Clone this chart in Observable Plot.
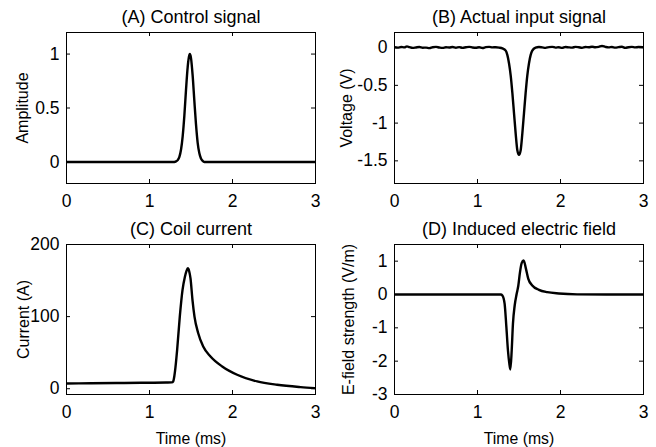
<!DOCTYPE html>
<html>
<head>
<meta charset="utf-8">
<script src="https://cdn.jsdelivr.net/npm/d3@7"></script>
<script src="https://cdn.jsdelivr.net/npm/@observablehq/plot@0.6"></script>
<style>
  html, body { margin: 0; padding: 0; background: #fff; }
  #wrap { position: relative; width: 656px; height: 447px; overflow: hidden; font-family: "Liberation Sans", Arial, sans-serif; }
  .panel { position: absolute; }
</style>
</head>
<body>
<div id="wrap"></div>
<script>
// ---------- data ----------
const xTicks = [0, 1, 2, 3];

// (A) Control signal
const tA = [0, 1.30, 1.32, 1.34, 1.36, 1.38, 1.40, 1.42, 1.44, 1.46, 1.48, 1.486, 1.50, 1.52, 1.54, 1.56, 1.58, 1.60, 1.62, 1.64, 1.66, 3];
const vA = [0, 0, 0.005, 0.017, 0.047, 0.115, 0.24, 0.43, 0.67, 0.88, 0.99, 1.0, 0.963, 0.80, 0.57, 0.35, 0.18, 0.082, 0.032, 0.01, 0, 0];
const ticksA = [0, 0.5, 1];

// (B) Actual input signal
const tB = [0, 0.04, 0.08, 0.12, 0.15, 0.18, 0.22, 0.26, 0.3, 0.34, 0.38, 0.42, 0.46, 0.5, 0.54, 0.58, 0.62, 0.66, 0.7, 0.74, 0.78, 0.82, 0.86, 0.9, 0.94, 0.98, 1.02, 1.06, 1.1, 1.14, 1.18, 1.22, 1.26, 1.30,
  1.34, 1.36, 1.38, 1.40, 1.42, 1.44, 1.46, 1.48, 1.50, 1.52, 1.54, 1.56, 1.58, 1.60, 1.62, 1.64, 1.66, 1.70,
  1.74, 1.78, 1.82, 1.86, 1.9, 1.94, 1.98, 2.02, 2.06, 2.1, 2.14, 2.18, 2.22, 2.26, 2.3, 2.34, 2.38, 2.42, 2.46, 2.5, 2.54, 2.58, 2.62, 2.66, 2.7, 2.74, 2.78, 2.82, 2.86, 2.9, 2.94, 3.0];
const vB = [0.004, 0.0, 0.008, 0.003, 0.016, 0.006, -0.004, 0.002, 0.007, -0.002, 0.0, -0.007, 0.004, 0.009, 0.001, -0.004, 0.005, 0.002, 0.008, -0.001, 0.006, -0.003, 0.004, 0.01, 0.002, -0.002, 0.005, -0.005, 0.006, 0.01, 0.003, 0.005, 0.0, -0.01,
  -0.04, -0.1, -0.21, -0.37, -0.6, -0.87, -1.14, -1.36, -1.42, -1.36, -1.14, -0.87, -0.6, -0.37, -0.21, -0.1, -0.04, 0.0,
  0.008, 0.003, -0.003, 0.006, 0.01, 0.0, 0.005, -0.004, 0.008, 0.003, 0.0, 0.009, 0.004, -0.003, 0.008, 0.004, 0.012, 0.005, 0.01, 0.022, 0.01, 0.003, 0.008, 0.0, 0.006, 0.011, -0.003, 0.005, 0.009, 0.003, 0.007, 0.004];
const ticksB = [-1.5, -1, -0.5, 0];

// (C) Coil current
const tC = [0, 0.3, 0.6, 0.9, 1.2, 1.27, 1.285, 1.30, 1.313, 1.333, 1.365, 1.398, 1.426, 1.445, 1.462, 1.478, 1.494, 1.518, 1.542, 1.587, 1.647, 1.735, 1.876, 2.056, 2.297, 2.538, 2.82, 3.0];
const vC = [7.3, 7.6, 7.9, 8.2, 8.6, 8.8, 10, 18, 30, 54, 100, 137, 155, 163, 167, 163, 153, 123, 100, 77, 58.5, 44.7, 30.9, 19.4, 10.1, 5.5, 2.3, 0.8];
const ticksC = [0, 100, 200];

// (D) Induced electric field
const tD = [0, 1.28, 1.30, 1.315, 1.327, 1.348, 1.367, 1.384, 1.396, 1.412, 1.427, 1.448, 1.472, 1.492, 1.512, 1.532, 1.556, 1.584, 1.612, 1.66, 1.74, 1.84, 1.98, 2.2, 3.0];
const vD = [0, 0, -0.03, -0.12, -0.28, -0.98, -1.68, -2.08, -2.25, -1.68, -0.88, -0.33, 0.02, 0.27, 0.67, 0.94, 1.02, 0.77, 0.47, 0.27, 0.14, 0.07, 0.03, 0.005, 0];
const ticksD = [-3, -2, -1, 0, 1];

const titles = ["(A) Control signal", "(B) Actual input signal", "(C) Coil current", "(D) Induced electric field"];
const yLabels = ["Amplitude", "Voltage (V)", "Current (A)", "E-field strength (V/m)"];
const xLabel = "Time (ms)";

// ---------- drawing ----------
const FONT = "'Liberation Sans', Arial, Helvetica, sans-serif";
const fmt = d => String(d);

function panel({t, v, yDomain, yTicks, title, ylabel, ylabelOffset, xlabel, left, top, width, height, mt, mb, ml, mr}) {
  const innerW = width - ml - mr;
  const innerH = height - mt - mb;
  const tick = 4;
  const marks = [
    Plot.tickX(xTicks, {x: d => d, insetTop: innerH - tick, stroke: "#000", strokeWidth: 1}),
    Plot.tickX(xTicks, {x: d => d, insetBottom: innerH - tick, stroke: "#000", strokeWidth: 1}),
    Plot.tickY(yTicks, {y: d => d, insetRight: innerW - tick, stroke: "#000", strokeWidth: 1}),
    Plot.tickY(yTicks, {y: d => d, insetLeft: innerW - tick, stroke: "#000", strokeWidth: 1}),
    Plot.line(t, {x: t, y: v, stroke: "#000", strokeWidth: 2.4, curve: "monotone-x", clip: true}),
    Plot.frame({stroke: "#000", strokeWidth: 1}),
    Plot.axisX({ticks: xTicks, tickSize: 0, tickPadding: 11, tickFormat: fmt, label: null, fontSize: 17.5}),
    Plot.axisY({ticks: yTicks, tickSize: 0, tickPadding: 7, tickFormat: fmt, label: null, fontSize: 17.5}),
    Plot.text([title], {frameAnchor: "top", dy: -15, fontSize: 18, lineAnchor: "middle", textAnchor: "middle", fill: "#000"}),
    Plot.text([ylabel], {frameAnchor: "left", dx: -ylabelOffset, rotate: -90, fontSize: 16, lineAnchor: "middle", textAnchor: "middle", fill: "#000"})
  ];
  if (xlabel) {
    marks.push(Plot.text([xlabel], {frameAnchor: "bottom", dy: 44, fontSize: 15.8, lineAnchor: "middle", textAnchor: "middle", fill: "#000"}));
  }
  const chart = Plot.plot({
    width, height,
    marginTop: mt, marginBottom: mb, marginLeft: ml, marginRight: mr,
    x: {domain: [0, 3]},
    y: {domain: yDomain},
    style: {fontFamily: FONT, fontSize: "17.5px", color: "#000", background: "transparent", overflow: "visible"},
    marks
  });
  const div = document.createElement("div");
  div.className = "panel";
  div.style.left = left + "px";
  div.style.top = top + "px";
  div.appendChild(chart);
  document.getElementById("wrap").appendChild(div);
}

panel({t: tA, v: vA, yDomain: [-0.2, 1.2], yTicks: ticksA, title: titles[0], ylabel: yLabels[0], ylabelOffset: 44,
  left: 0, top: 0, width: 328, height: 220, mt: 32, mb: 37, ml: 66, mr: 13});
panel({t: tB, v: vB, yDomain: [-1.8, 0.2], yTicks: ticksB, title: titles[1], ylabel: yLabels[1], ylabelOffset: 48,
  left: 328, top: 0, width: 328, height: 220, mt: 32, mb: 37, ml: 66, mr: 13});
panel({t: tC, v: vC, yDomain: [-8, 200], yTicks: ticksC, title: titles[2], ylabel: yLabels[2], ylabelOffset: 43, xlabel: xLabel,
  left: 0, top: 220, width: 328, height: 227, mt: 24, mb: 53, ml: 66, mr: 13});
panel({t: tD, v: vD, yDomain: [-3, 1.5], yTicks: ticksD, title: titles[3], ylabel: yLabels[3], ylabelOffset: 46, xlabel: xLabel,
  left: 328, top: 220, width: 328, height: 227, mt: 24, mb: 53, ml: 66, mr: 13});
</script>
</body>
</html>
